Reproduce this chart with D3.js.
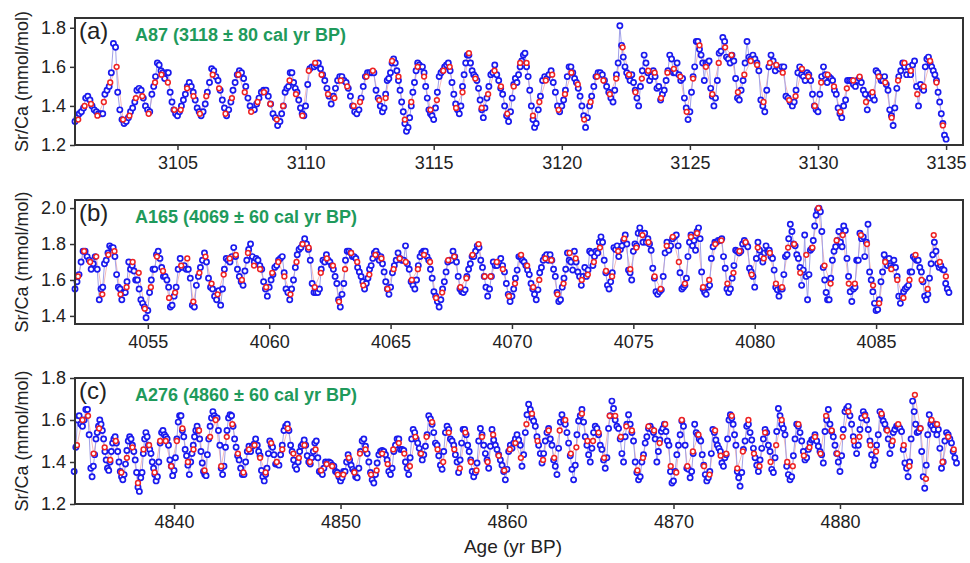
<!DOCTYPE html>
<html>
<head>
<meta charset="utf-8">
<script src="https://cdn.jsdelivr.net/npm/d3@7"></script>
<style>
body { margin: 0; background: #fff; }
svg { display: block; }
</style>
</head>
<body>
<div id="chart"></div>
<script>
// ---- data: one inner array per calendar year of samples ----
var aStart = 3101;
var aBlue = [
[1.32,1.34,1.36,1.37,1.39,1.44,1.45,1.43,1.40,1.38,1.37,1.36],
[1.36,1.36,1.46,1.48,1.50,1.57,1.72,1.70,1.47,1.38,1.33,1.31],
[1.32,1.34,1.37,1.39,1.42,1.48,1.49,1.48,1.44,1.40,1.38,1.37],
[1.46,1.50,1.55,1.62,1.61,1.58,1.57,1.54,1.57,1.57,1.47,1.42,1.38,1.36],
[1.35,1.37,1.40,1.43,1.46,1.50,1.52,1.50,1.47,1.43,1.39,1.37,1.35],
[1.37,1.41,1.47,1.52,1.59,1.58,1.55,1.53,1.48,1.43,1.39,1.35],
[1.38,1.42,1.48,1.52,1.56,1.58,1.57,1.54,1.50,1.44,1.40,1.38],
[1.38,1.41,1.44,1.47,1.48,1.48,1.45,1.41,1.36,1.34,1.30],
[1.32,1.36,1.40,1.47,1.49,1.50,1.57,1.57,1.52,1.49,1.47,1.43,1.39,1.36,1.35],
[1.40,1.51,1.59,1.60,1.60,1.61,1.62,1.59,1.56,1.53,1.49,1.45],
[1.41,1.45,1.49,1.53,1.55,1.55,1.53,1.52,1.49,1.45,1.40,1.37],
[1.36,1.38,1.44,1.50,1.55,1.57,1.57,1.57,1.57,1.48,1.44,1.40],
[1.37,1.39,1.46,1.53,1.54,1.57,1.62,1.64,1.62,1.58,1.53,1.48,1.42,1.37,1.31,1.27],
[1.29,1.34,1.40,1.47,1.52,1.58,1.62,1.61,1.60,1.60,1.57,1.50,1.44,1.38,1.36,1.35],
[1.33,1.39,1.47,1.55,1.57,1.58,1.60,1.61,1.62,1.58,1.52,1.46,1.41,1.38],
[1.36,1.40,1.50,1.56,1.62,1.66,1.66,1.62,1.58,1.56,1.55,1.53,1.49,1.43,1.38,1.34],
[1.39,1.44,1.50,1.56,1.57,1.61,1.56,1.53,1.49,1.46,1.40,1.35,1.32],
[1.37,1.44,1.51,1.54,1.52,1.56,1.60,1.63,1.66,1.67,1.60,1.55,1.48,1.40,1.33,1.29],
[1.31,1.38,1.45,1.53,1.55,1.54,1.56,1.58,1.52,1.47,1.40,1.37],
[1.40,1.43,1.48,1.55,1.60,1.60,1.57,1.54,1.52,1.49,1.45,1.40,1.35,1.29],
[1.34,1.40,1.45,1.50,1.55,1.57,1.57,1.56,1.53,1.50,1.47,1.44],
[1.42,1.48,1.56,1.62,1.81,1.71,1.65,1.60,1.57,1.55,1.53,1.56,1.52,1.48,1.44],
[1.40,1.50,1.58,1.66,1.62,1.57,1.53,1.55,1.58,1.55,1.49,1.50,1.43,1.46],
[1.48,1.53,1.58,1.66,1.64,1.57,1.57,1.62,1.56,1.53,1.54,1.44,1.39,1.33],
[1.37,1.47,1.55,1.60,1.73,1.73,1.69,1.66,1.62,1.53,1.62,1.62,1.63,1.49,1.45,1.40],
[1.44,1.53,1.67,1.68,1.75,1.73,1.65,1.64,1.62,1.66,1.63,1.54,1.44,1.43],
[1.48,1.53,1.62,1.73,1.65,1.64,1.66,1.64,1.62,1.58,1.43,1.40,1.37],
[1.48,1.60,1.66,1.63,1.58,1.60,1.59,1.60,1.60,1.45,1.44,1.42],
[1.40,1.42,1.48,1.57,1.60,1.56,1.55,1.53,1.57,1.56,1.53,1.46,1.40,1.38],
[1.37,1.46,1.55,1.60,1.56,1.52,1.55,1.54,1.53,1.48,1.46,1.39,1.36,1.34],
[1.40,1.43,1.53,1.53,1.53,1.51,1.50,1.53,1.54,1.52,1.48,1.46,1.38],
[1.44,1.46,1.45,1.43,1.58,1.57,1.55,1.53,1.53,1.55,1.51,1.48,1.38,1.35,1.30],
[1.39,1.49,1.55,1.58,1.62,1.60,1.56,1.60,1.56,1.61,1.63,1.50,1.40],
[1.51,1.49,1.48,1.60,1.64,1.65,1.62,1.60,1.58,1.56,1.53,1.47,1.42,1.36,1.31,1.25],
[1.23]
];
var aRed = [
[1.33,1.40,1.41,1.35],[1.42,1.52,1.60,1.33],[1.35,1.44,1.45,1.36],[1.52,1.56,1.52,1.38],
[1.38,1.49,1.45,1.36],[1.45,1.56,1.49,1.36],[1.44,1.56,1.47,1.37],[1.42,1.47,1.41,1.33],
[1.40,1.53,1.46,1.35],[1.58,1.62,1.56,1.46],[1.44,1.53,1.50,1.40],[1.42,1.55,1.58,1.43],
[1.44,1.63,1.55,1.33],[1.42,1.60,1.55,1.38],[1.43,1.58,1.60,1.39],[1.47,1.67,1.54,1.39],
[1.46,1.58,1.50,1.36],[1.50,1.62,1.62,1.35],[1.42,1.53,1.56,1.38],[1.46,1.57,1.51,1.33],
[1.42,1.55,1.53,1.46],[1.54,1.70,1.56,1.47],[1.54,1.58,1.57,1.44],[1.57,1.59,1.55,1.37],
[1.54,1.71,1.60,1.46],[1.62,1.70,1.66,1.47],[1.56,1.63,1.61,1.42],[1.62,1.61,1.57,1.43],
[1.45,1.59,1.55,1.40],[1.52,1.56,1.50,1.37],[1.49,1.53,1.55,1.42],[1.47,1.55,1.52,1.34],
[1.53,1.62,1.58,1.46],[1.50,1.63,1.52,1.30],[]
];

var bStart = 4052;
var bBlue = [
[1.55,1.59,1.63,1.70,1.76,1.76,1.73,1.71,1.66,1.69,1.73,1.66],
[1.49,1.55,1.56,1.69,1.71,1.75,1.79,1.78,1.78,1.73,1.63,1.56,1.55,1.49],
[1.53,1.53,1.59,1.70,1.66,1.68,1.65,1.60,1.60,1.55,1.49,1.47,1.45,1.39],
[1.43,1.53,1.60,1.66,1.66,1.74,1.76,1.72,1.67,1.62,1.62,1.60,1.56,1.45],
[1.46,1.51,1.56,1.66,1.72,1.67,1.68,1.66,1.66,1.61,1.46,1.45],
[1.57,1.62,1.67,1.71,1.75,1.70,1.61,1.56,1.55,1.51,1.49,1.54],
[1.46,1.55,1.66,1.72,1.71,1.70,1.73,1.78,1.73,1.66,1.62,1.59,1.57],
[1.65,1.71,1.77,1.80,1.73,1.70,1.72,1.71,1.68,1.66,1.59,1.55,1.51],
[1.56,1.60,1.63,1.67,1.68,1.71,1.72,1.73,1.64,1.55,1.53,1.49,1.55],
[1.60,1.67,1.74,1.77,1.78,1.80,1.83,1.80,1.77,1.71,1.58,1.53,1.53],
[1.53,1.55,1.66,1.71,1.70,1.74,1.71,1.70,1.68,1.66,1.62,1.58,1.49,1.45],
[1.52,1.58,1.71,1.76,1.76,1.75,1.73,1.73,1.72,1.67,1.645,1.62,1.59,1.55],
[1.58,1.61,1.66,1.68,1.72,1.75,1.76,1.74,1.71,1.73,1.69,1.645,1.59,1.55,1.52],
[1.56,1.64,1.68,1.71,1.75,1.72,1.71,1.71,1.79,1.69,1.66,1.59,1.57],
[1.55,1.60,1.68,1.73,1.75,1.76,1.76,1.73,1.71,1.66,1.61,1.535,1.51,1.48],
[1.45,1.49,1.55,1.59,1.645,1.70,1.71,1.71,1.76,1.73,1.70,1.62,1.55,1.535],
[1.53,1.545,1.62,1.66,1.69,1.73,1.73,1.76,1.79,1.78,1.71,1.67,1.62,1.56],
[1.51,1.55,1.62,1.70,1.68,1.68,1.70,1.72,1.68,1.645,1.58,1.52,1.48],
[1.51,1.55,1.61,1.655,1.73,1.73,1.71,1.70,1.68,1.655,1.63,1.58,1.55,1.52],
[1.49,1.545,1.64,1.67,1.71,1.73,1.74,1.71,1.74,1.71,1.66,1.62,1.53,1.48],
[1.49,1.56,1.61,1.66,1.75,1.71,1.70,1.655,1.76,1.70,1.645,1.62,1.57,1.62],
[1.67,1.62,1.655,1.76,1.75,1.68,1.73,1.76,1.75,1.81,1.84,1.81,1.71,1.64,1.57],
[1.55,1.59,1.64,1.78,1.77,1.79,1.73,1.77,1.79,1.82,1.85,1.80,1.655,1.64,1.60],
[1.76,1.80,1.79,1.86,1.89,1.86,1.81,1.86,1.81,1.83,1.80,1.765,1.665,1.61,1.535],
[1.52,1.535,1.545,1.62,1.75,1.81,1.765,1.79,1.83,1.84,1.85,1.79,1.64],
[1.55,1.56,1.57,1.61,1.73,1.81,1.85,1.79,1.82,1.765,1.87,1.89,1.83,1.645,1.55,1.53],
[1.52,1.56,1.57,1.72,1.785,1.81,1.81,1.82,1.82,1.83,1.73,1.665,1.55,1.53],
[1.55,1.61,1.68,1.765,1.76,1.75,1.76,1.80,1.82,1.80,1.785,1.665,1.645,1.62],
[1.56,1.72,1.81,1.765,1.73,1.70,1.75,1.79,1.76,1.765,1.73,1.72,1.655,1.56,1.545],
[1.51,1.55,1.55,1.63,1.73,1.74,1.83,1.91,1.87,1.80,1.79,1.74,1.72,1.67,1.57],
[1.655,1.85,1.62,1.49,1.63,1.765,1.775,1.82,1.90,1.96,1.99,2.00,1.98,1.87,1.67,1.60,1.53],
[1.49,1.49,1.61,1.71,1.76,1.785,1.82,1.87,1.81,1.785,1.90,1.875,1.72,1.62,1.535],
[1.48,1.55,1.56,1.71,1.71,1.86,1.83,1.84,1.73,1.81,1.91,1.645,1.60,1.535,1.47],
[1.43,1.435,1.49,1.59,1.645,1.74,1.71,1.68,1.72,1.68,1.67,1.71,1.67,1.62,1.51],
[1.47,1.51,1.535,1.55,1.56,1.57,1.645,1.645,1.73,1.72,1.71,1.71,1.67,1.645,1.59],
[1.51,1.49,1.52,1.61,1.69,1.74,1.81,1.76,1.69,1.67,1.68,1.66,1.655,1.58,1.55],
[1.53]
];
var bRed = [
[1.62,1.76,1.70,1.73],[1.52,1.74,1.76,1.52],[1.56,1.70,1.64,1.44],[1.56,1.73,1.65,1.50],
[1.53,1.68,1.72,1.48],[1.64,1.73,1.58,1.52],[1.63,1.72,1.74,1.60],[1.75,1.68,1.66,1.56],
[1.64,1.70,1.62,1.52],[1.70,1.80,1.78,1.56],[1.64,1.72,1.68,1.48],[1.66,1.75,1.70,1.57],
[1.63,1.74,1.72,1.55],[1.66,1.72,1.70,1.60],[1.66,1.74,1.70,1.50],[1.53,1.71,1.73,1.56],
[1.61,1.74,1.80,1.62],[1.62,1.70,1.66,1.51],[1.58,1.74,1.68,1.56],[1.60,1.72,1.71,1.52],
[1.58,1.75,1.72,1.60],[1.63,1.70,1.78,1.65],[1.62,1.76,1.83,1.66],[1.78,1.85,1.81,1.62],
[1.55,1.79,1.84,1.70],[1.58,1.84,1.86,1.56],[1.60,1.80,1.82,1.58],[1.64,1.76,1.81,1.63],
[1.78,1.72,1.75,1.58],[1.56,1.78,1.80,1.64],[1.74,1.78,2.00,1.68],[1.58,1.82,1.85,1.58],
[1.58,1.85,1.80,1.57],[1.47,1.70,1.66,1.60],[1.50,1.60,1.74,1.60],[1.55,1.85,1.70,1.62],[]
];

var cStart = 4834;
var cBlue = [
[1.355,1.47,1.60,1.62,1.58,1.57,1.60,1.65,1.65,1.53],
[1.37,1.33,1.38,1.435,1.51,1.54,1.57,1.60,1.58,1.55,1.51,1.45,1.41],
[1.37,1.36,1.40,1.45,1.49,1.51,1.52,1.49,1.45,1.40,1.355,1.33,1.315],
[1.34,1.39,1.455,1.50,1.52,1.51,1.48,1.45,1.41,1.35,1.28,1.26],
[1.325,1.35,1.44,1.51,1.54,1.52,1.48,1.46,1.44,1.40,1.37,1.34,1.31],
[1.33,1.40,1.49,1.54,1.55,1.53,1.52,1.51,1.48,1.41,1.38,1.335],
[1.36,1.42,1.51,1.59,1.62,1.62,1.55,1.52,1.46,1.43,1.385,1.34],
[1.40,1.44,1.48,1.52,1.55,1.57,1.55,1.51,1.45,1.395,1.355,1.34,1.335],
[1.435,1.51,1.57,1.61,1.64,1.62,1.61,1.61,1.55,1.48,1.37,1.34],
[1.38,1.47,1.55,1.61,1.625,1.62,1.57,1.51,1.47,1.43,1.41],
[1.37,1.34,1.34,1.40,1.45,1.475,1.45,1.475,1.485,1.51],
[1.48,1.45,1.43,1.36,1.33,1.31,1.34,1.37,1.44,1.50,1.48,1.47],
[1.435,1.39,1.39,1.385,1.435,1.48,1.55,1.57,1.58,1.55],
[1.48,1.45,1.41,1.38,1.365,1.40,1.45,1.475,1.485,1.505,1.48],
[1.43,1.40,1.39,1.42,1.45,1.49,1.50,1.42,1.355,1.35,1.34],
[1.37,1.40,1.395,1.40,1.395,1.385,1.38,1.355,1.35,1.33],
[1.31,1.325,1.355,1.355,1.40,1.435,1.41,1.385,1.365,1.355,1.33],
[1.325,1.37,1.45,1.50,1.51,1.475,1.44,1.40,1.35,1.315],
[1.30,1.34,1.395,1.435,1.45,1.455,1.45,1.435,1.41,1.355],
[1.34,1.37,1.45,1.48,1.51,1.51,1.46,1.46,1.455,1.40],
[1.37,1.34,1.42,1.51,1.555,1.54,1.51,1.49,1.465,1.44,1.41],
[1.435,1.475,1.53,1.62,1.605,1.58,1.54,1.49,1.48,1.43],
[1.385,1.365,1.45,1.54,1.57,1.555,1.51,1.50,1.48,1.435],
[1.40,1.35,1.41,1.49,1.555,1.555,1.53,1.48,1.45,1.41,1.355],
[1.33,1.35,1.395,1.50,1.56,1.53,1.48,1.44,1.41,1.37],
[1.475,1.555,1.505,1.48,1.46,1.435,1.41,1.385,1.355,1.315],
[1.365,1.45,1.48,1.465,1.49,1.51,1.53,1.505,1.48,1.38],
[1.435,1.54,1.625,1.675,1.65,1.61,1.595,1.57,1.52,1.48],
[1.44,1.395,1.44,1.50,1.54,1.56,1.51,1.48,1.41,1.38],
[1.34,1.465,1.59,1.625,1.595,1.58,1.54,1.49,1.43,1.365],
[1.315,1.385,1.53,1.595,1.62,1.65,1.59,1.52,1.48,1.435],
[1.40,1.465,1.54,1.57,1.56,1.53,1.48,1.46,1.41,1.37],
[1.42,1.56,1.62,1.69,1.655,1.60,1.57,1.56,1.51,1.44],
[1.40,1.52,1.58,1.625,1.58,1.54,1.50,1.40,1.35,1.315],
[1.33,1.40,1.435,1.49,1.52,1.56,1.57,1.555,1.54,1.51],
[1.40,1.45,1.505,1.545,1.56,1.58,1.545,1.50,1.48,1.355,1.30],
[1.31,1.355,1.435,1.48,1.53,1.595,1.57,1.48,1.37,1.365],
[1.325,1.355,1.44,1.58,1.54,1.53,1.51,1.50,1.435,1.385,1.34],
[1.31,1.325,1.355,1.44,1.555,1.54,1.505,1.48,1.465,1.45,1.395],
[1.38,1.42,1.435,1.51,1.60,1.625,1.61,1.58,1.53,1.48,1.355,1.325],
[1.285,1.35,1.46,1.50,1.57,1.58,1.54,1.505,1.465,1.42],
[1.385,1.355,1.41,1.465,1.51,1.555,1.54,1.48,1.45,1.365],
[1.35,1.42,1.545,1.655,1.62,1.58,1.56,1.53,1.38,1.34],
[1.315,1.33,1.43,1.51,1.58,1.57,1.54,1.50,1.45,1.41],
[1.42,1.46,1.49,1.505,1.51,1.53,1.50,1.475,1.45,1.435],
[1.395,1.545,1.60,1.65,1.58,1.545,1.52,1.48,1.44,1.40],
[1.355,1.43,1.555,1.64,1.655,1.665,1.62,1.58,1.52,1.48],
[1.44,1.48,1.555,1.61,1.64,1.625,1.60,1.555,1.50,1.435],
[1.385,1.41,1.48,1.53,1.64,1.62,1.595,1.58,1.555,1.51],
[1.44,1.48,1.54,1.555,1.57,1.57,1.56,1.545,1.46,1.395],
[1.37,1.33,1.40,1.51,1.69,1.64,1.58,1.54,1.545,1.56,1.45],
[1.33,1.275,1.385,1.53,1.625,1.58,1.57,1.555,1.58,1.53,1.555],
[1.465,1.37,1.40,1.50,1.54,1.53,1.51,1.49,1.45,1.42],
[1.395]
];
var cRed = [
[1.48,1.60,1.62],[1.44,1.56,1.47],[1.41,1.50,1.35],[1.42,1.47,1.30],[1.46,1.48,1.35],
[1.50,1.50,1.38],[1.50,1.56,1.40],[1.46,1.55,1.36],[1.52,1.60,1.38],[1.52,1.58,1.44],
[1.35,1.46,1.48],[1.42,1.35,1.49],[1.40,1.46,1.56],[1.44,1.42,1.48],[1.40,1.46,1.36],
[1.39,1.38,1.34],[1.34,1.42,1.35],[1.44,1.46,1.34],[1.36,1.44,1.39],[1.46,1.49,1.44],
[1.38,1.52,1.44],[1.52,1.59,1.46],[1.40,1.54,1.46],[1.37,1.54,1.40],[1.36,1.52,1.40],
[1.53,1.43,1.36],[1.46,1.49,1.42],[1.58,1.63,1.50],[1.41,1.55,1.42],[1.55,1.60,1.44],
[1.47,1.63,1.50],[1.50,1.54,1.42],[1.62,1.62,1.52],[1.57,1.55,1.36],[1.42,1.57,1.55],
[1.49,1.58,1.38],[1.35,1.60,1.38],[1.45,1.53,1.38],[1.34,1.55,1.43],[1.44,1.62,1.37],
[1.45,1.60,1.44],[1.38,1.54,1.40],[1.48,1.60,1.40],[1.38,1.58,1.43],[1.47,1.52,1.44],
[1.62,1.55,1.44],[1.52,1.64,1.50],[1.52,1.62,1.48],[1.45,1.63,1.55],[1.50,1.58,1.48],
[1.38,1.72,1.56],[1.32,1.60,1.58],[1.40,1.52,1.46],[]
];

// axes
var aXDomain = [3101, 3135.66], aYDomain = [1.2, 1.85];
var bXDomain = [4052, 4088.58], bYDomain = [1.355, 2.045];
var cXDomain = [4834.05, 4887.39], cYDomain = [1.2, 1.8];
var aXTicks = [3105, 3110, 3115, 3120, 3125, 3130, 3135];
var bXTicks = [4055, 4060, 4065, 4070, 4075, 4080, 4085];
var cXTicks = [4840, 4850, 4860, 4870, 4880];
var aYTicks = [1.2, 1.4, 1.6, 1.8];
var bYTicks = [1.4, 1.6, 1.8, 2.0];
var cYTicks = [1.2, 1.4, 1.6, 1.8];
var panelTags = ["(a)", "(b)", "(c)"];
var panelTitles = ["A87 (3118 \u00b1 80 cal yr BP)", "A165 (4069 \u00b1 60 cal yr BP)", "A276 (4860 \u00b1 60 cal yr BP)"];
var yTitle = "Sr/Ca (mmol/mol)";
var xTitle = "Age (yr BP)";

var width = 970, height = 563;
var left = 75, right = 963;

var svg = d3.select("#chart")
	.append("svg")
	.attr("width", width)
	.attr("height", height)
	.style("font-family", "'Liberation Sans', Arial, sans-serif");

// spread each year's samples evenly through that year
function flatten(start, chunks, centred) {
	var out = [];
	chunks.forEach(function (vals, k) {
		vals.forEach(function (v, i) {
			var f = centred ? (i + 0.5) / vals.length : i / vals.length;
			out.push({ age: start + k + f, v: v });
		});
	});
	return out;
}

var panels = [
	{ start: aStart, blue: aBlue, red: aRed, xd: aXDomain, yd: aYDomain, xt: aXTicks, yt: aYTicks, top: 18, bottom: 145 },
	{ start: bStart, blue: bBlue, red: bRed, xd: bXDomain, yd: bYDomain, xt: bXTicks, yt: bYTicks, top: 200, bottom: 324 },
	{ start: cStart, blue: cBlue, red: cRed, xd: cXDomain, yd: cYDomain, xt: cXTicks, yt: cYTicks, top: 378, bottom: 504 }
];

panels.forEach(function (p, k) {
	var x = d3.scaleLinear().domain(p.xd).range([left, right]);
	var y = d3.scaleLinear().domain(p.yd).range([p.bottom, p.top]);
	var g = svg.append("g");

	var blue = flatten(p.start, p.blue, false);
	var red = flatten(p.start, p.red, true);

	var line = d3.line()
		.x(function (d) { return x(d.age); })
		.y(function (d) { return y(d.v); });

	g.append("path").datum(red)
		.attr("d", line)
		.attr("fill", "none")
		.attr("stroke", "#f2a8a8")
		.attr("stroke-width", 0.8);

	g.append("path").datum(blue)
		.attr("d", line)
		.attr("fill", "none")
		.attr("stroke", "#a0a0e8")
		.attr("stroke-width", 1);

	g.selectAll(".b").data(blue).enter().append("circle")
		.attr("cx", function (d) { return x(d.age); })
		.attr("cy", function (d) { return y(d.v); })
		.attr("r", 2.6)
		.attr("fill", "#fff")
		.attr("stroke", "#1a1aee")
		.attr("stroke-width", 1.7);

	g.selectAll(".r").data(red).enter().append("circle")
		.attr("cx", function (d) { return x(d.age); })
		.attr("cy", function (d) { return y(d.v); })
		.attr("r", 2.4)
		.attr("fill", "#fff")
		.attr("stroke", "#ee2222")
		.attr("stroke-width", 1.5);

	// frame
	g.append("rect")
		.attr("x", left)
		.attr("y", p.top)
		.attr("width", right - left)
		.attr("height", p.bottom - p.top)
		.attr("fill", "none")
		.attr("stroke", "#333")
		.attr("stroke-width", 2);

	var gx = g.append("g")
		.attr("transform", "translate(0," + p.bottom + ")")
		.call(d3.axisBottom(x).tickValues(p.xt).tickSize(5).tickSizeOuter(0).tickPadding(6).tickFormat(d3.format("d")));
	var gy = g.append("g")
		.attr("transform", "translate(" + left + ",0)")
		.call(d3.axisLeft(y).tickValues(p.yt).tickSize(5).tickSizeOuter(0).tickPadding(4).tickFormat(d3.format(".1f")));
	[gx, gy].forEach(function (ax) {
		ax.select(".domain").remove();
		ax.selectAll("line").attr("stroke", "#333").attr("stroke-width", 1.5);
		ax.selectAll("text").attr("font-size", 18).attr("fill", "#222")
			.style("font-family", "'Liberation Sans', Arial, sans-serif");
	});

	g.append("text")
		.attr("transform", "translate(28," + ((p.top + p.bottom) / 2) + ") rotate(-90)")
		.attr("text-anchor", "middle")
		.attr("font-size", 18)
		.attr("fill", "#222")
		.text(yTitle);

	g.append("text")
		.attr("x", 79)
		.attr("y", p.top + 21)
		.attr("font-size", 24)
		.attr("fill", "#222")
		.text(panelTags[k]);

	g.append("text")
		.attr("x", 135)
		.attr("y", p.top + 23)
		.attr("font-size", 18)
		.attr("font-weight", "bold")
		.attr("fill", "#1f9a5c")
		.text(panelTitles[k]);
});

svg.append("text")
	.attr("x", 513)
	.attr("y", 553)
	.attr("text-anchor", "middle")
	.attr("font-size", 19)
	.attr("fill", "#222")
	.text(xTitle);
</script>
</body>
</html>
